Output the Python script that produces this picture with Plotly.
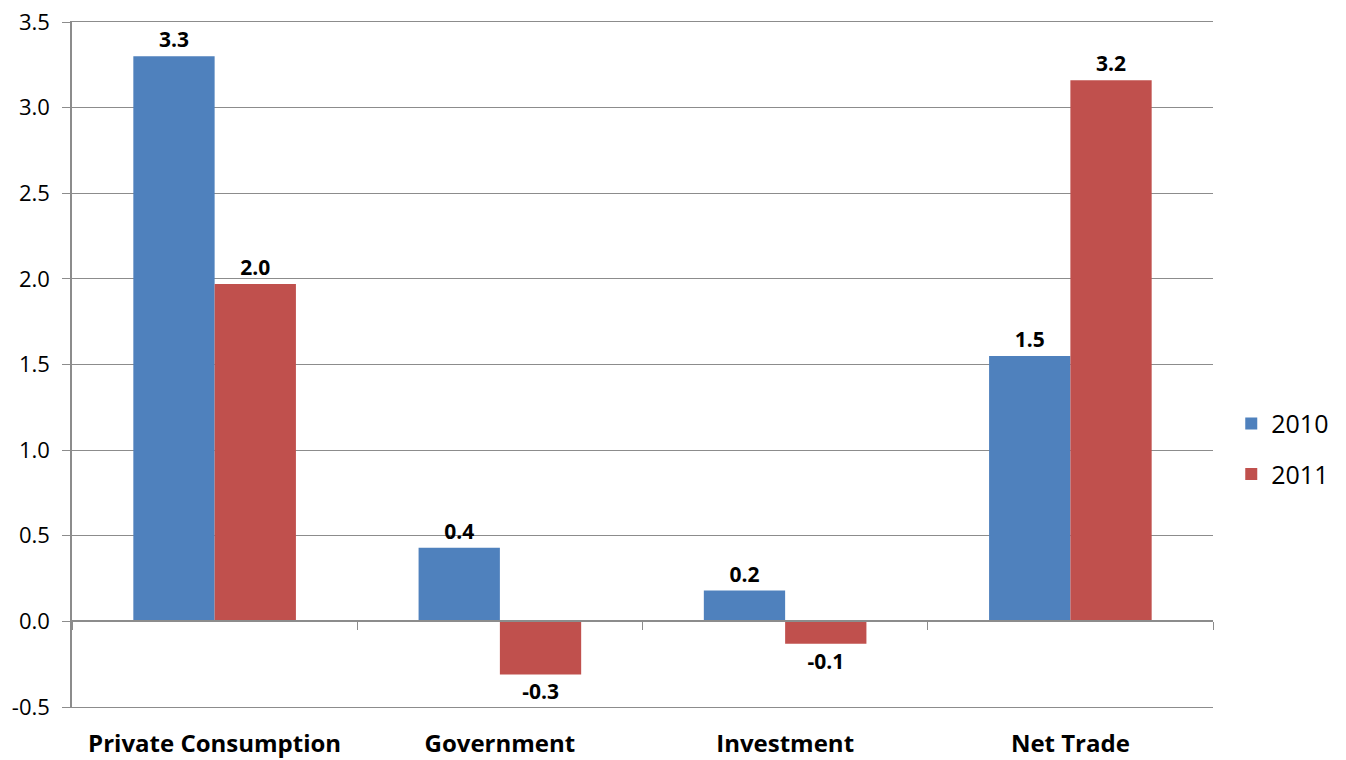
import plotly.graph_objects as go

categories = ["Private Consumption", "Government", "Investment", "Net Trade"]
values_2010 = [3.30, 0.43, 0.18, 1.55]
values_2011 = [1.97, -0.31, -0.13, 3.16]
labels_2010 = ["3.3", "0.4", "0.2", "1.5"]
labels_2011 = ["2.0", "-0.3", "-0.1", "3.2"]
y_ticks = [-0.5, 0.0, 0.5, 1.0, 1.5, 2.0, 2.5, 3.0, 3.5]

FONT = "'Open Sans', 'Liberation Sans', sans-serif"
GRID = "#8c8c8c"

fig = go.Figure()
fig.add_trace(go.Bar(
    x=categories, y=values_2010, name="2010", legendgroup="a",
    marker=dict(color="#4F81BD", line=dict(width=0)),
    text=labels_2010, textposition="outside", cliponaxis=False,
    textfont=dict(family=FONT, size=21, color="#000000", weight="bold"),
))
fig.add_trace(go.Bar(
    x=categories, y=values_2011, name="2011", legendgroup="b",
    marker=dict(color="#C0504D", line=dict(width=0)),
    text=labels_2011, textposition="outside", cliponaxis=False,
    textfont=dict(family=FONT, size=21, color="#000000", weight="bold"),
))
# invisible helper trace for the zero-line category axis
fig.add_trace(go.Scatter(
    x=categories, y=[0] * len(categories), xaxis="x2", mode="markers",
    marker=dict(opacity=0), showlegend=False, hoverinfo="skip",
))

Y_RANGE = [-0.5, 3.5]
zero_pos = (0 - Y_RANGE[0]) / (Y_RANGE[1] - Y_RANGE[0])

fig.update_layout(
    width=1346, height=760,
    margin=dict(l=72, r=133, t=22, b=53, autoexpand=False),
    paper_bgcolor="white", plot_bgcolor="white",
    barmode="group", bargap=0.43, bargroupgap=0,
    font=dict(family=FONT, size=21, color="#000000"),
    legend=dict(x=1.016, y=0.377, xanchor="left", yanchor="middle",
                font=dict(family=FONT, size=25), itemwidth=30,
                tracegroupgap=15),
    xaxis=dict(type="category", categoryarray=categories, range=[-0.5, 3.5],
               showgrid=False, showline=True, mirror=True, linecolor=GRID,
               linewidth=1, ticks="", zeroline=False,
               automargin=False, ticklabelstandoff=15,
               tickfont=dict(family=FONT, size=24, weight="bold")),
    xaxis2=dict(type="category", categoryarray=categories, range=[-0.5, 3.5],
                overlaying="x", anchor="free", position=zero_pos,
                showline=True, linecolor=GRID, linewidth=1.5,
                ticks="outside", tickson="boundaries", ticklen=8,
                tickcolor=GRID, showticklabels=False, showgrid=False,
                zeroline=False, automargin=False),
    yaxis=dict(range=Y_RANGE, tickvals=y_ticks,
               ticktext=[f"{v:.1f}" for v in y_ticks],
               showgrid=True, gridcolor=GRID, gridwidth=1,
               showline=True, linecolor=GRID, linewidth=1.5,
               ticks="outside", ticklen=8, tickcolor=GRID,
               zeroline=False, automargin=False, ticklabelstandoff=8,
               ticklabeloverflow="allow",
               tickfont=dict(family=FONT, size=22)),
)

fig.write_html("out.html", config={"displayModeBar": False},
               post_script="document.body.style.margin='0px';")
